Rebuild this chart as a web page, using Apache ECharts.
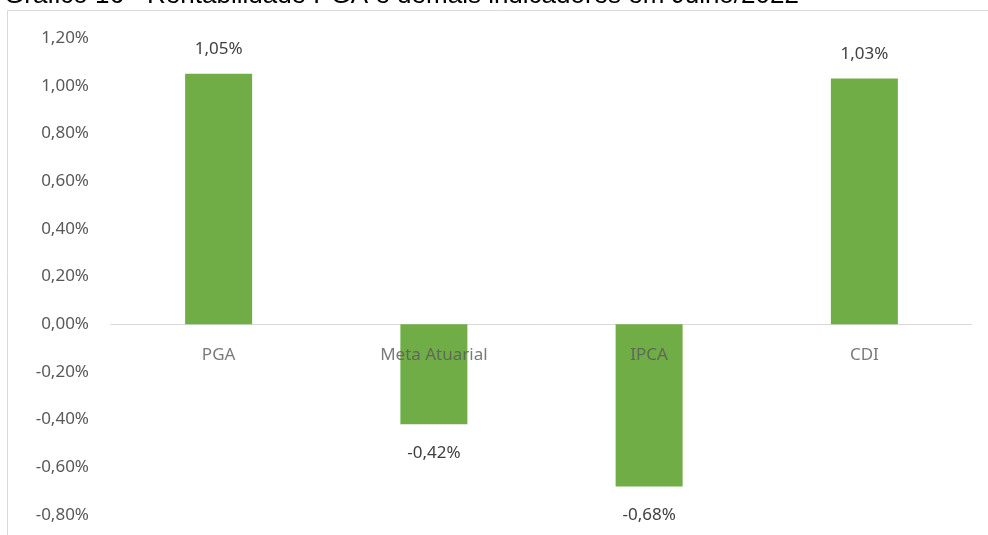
<!DOCTYPE html>
<html>
<head>
<meta charset="utf-8">
<script src="https://cdn.jsdelivr.net/npm/echarts@6/dist/echarts.min.js"></script>
<style>
  html, body { margin: 0; padding: 0; background: #fff; }
  #grafica { width: 988px; height: 535px; }
</style>
</head>
<body>
<div id="grafica"></div>
<script>
let categorias = ['PGA', 'Meta Atuarial', 'IPCA', 'CDI'];
let valores = [1.05, -0.42, -0.68, 1.03];
let titulo = 'Gráfico 16 - Rentabilidade PGA e demais indicadores em Julho/2022';

function formatoPct(v) {
  return v.toFixed(2).replace('.', ',') + '%';
}

let chartDom = document.getElementById('grafica');
let myChart = echarts.init(chartDom, null, { renderer: 'canvas' });

let option = {
  animation: false,
  textStyle: { fontFamily: 'Noto Sans' },
  graphic: [
    {
      type: 'rect',
      shape: { x: 7.5, y: 10.5, width: 1000, height: 540 },
      style: { fill: 'none', stroke: '#d9d9d9', lineWidth: 1 }
    },
    {
      type: 'text',
      x: 4,
      y: 9,
      style: {
        text: titulo,
        fontFamily: 'Liberation Sans',
        fontSize: 26,
        fill: '#000',
        verticalAlign: 'bottom'
      }
    }
  ],
  grid: { left: 111, right: 16, top: 38, bottom: 20, outerBoundsMode: 'none' },
  xAxis: {
    type: 'category',
    data: categorias,
    axisLine: { onZero: true, lineStyle: { color: '#d9d9d9', width: 1 } },
    axisTick: { show: false },
    axisLabel: { show: false }
  },
  yAxis: {
    type: 'value',
    min: -0.8,
    max: 1.2,
    interval: 0.2,
    splitLine: { show: false },
    axisLine: { show: false },
    axisTick: { show: false },
    axisLabel: {
      color: '#595959',
      fontSize: 17,
      margin: 22,
      formatter: v => formatoPct(v)
    }
  },
  series: [
    {
      type: 'bar',
      barWidth: 67,
      itemStyle: { color: '#70ad47' },
      data: valores.map(v => ({
        value: v,
        label: { position: v >= 0 ? 'top' : 'bottom', distance: v >= 0 ? 16 : 20 }
      })),
      label: {
        show: true,
        color: '#404040',
        fontSize: 17,
        formatter: p => formatoPct(p.value)
      }
    },
    {
      // nomes das categorias junto à linha do zero, por cima das barras
      type: 'scatter',
      symbolSize: 0,
      silent: true,
      z: 10,
      data: categorias.map(() => 0),
      label: {
        show: true,
        position: 'bottom',
        distance: 22,
        color: '#595959',
        fontSize: 17,
        formatter: p => categorias[p.dataIndex]
      }
    }
  ]
};

myChart.setOption(option);
</script>
</body>
</html>
